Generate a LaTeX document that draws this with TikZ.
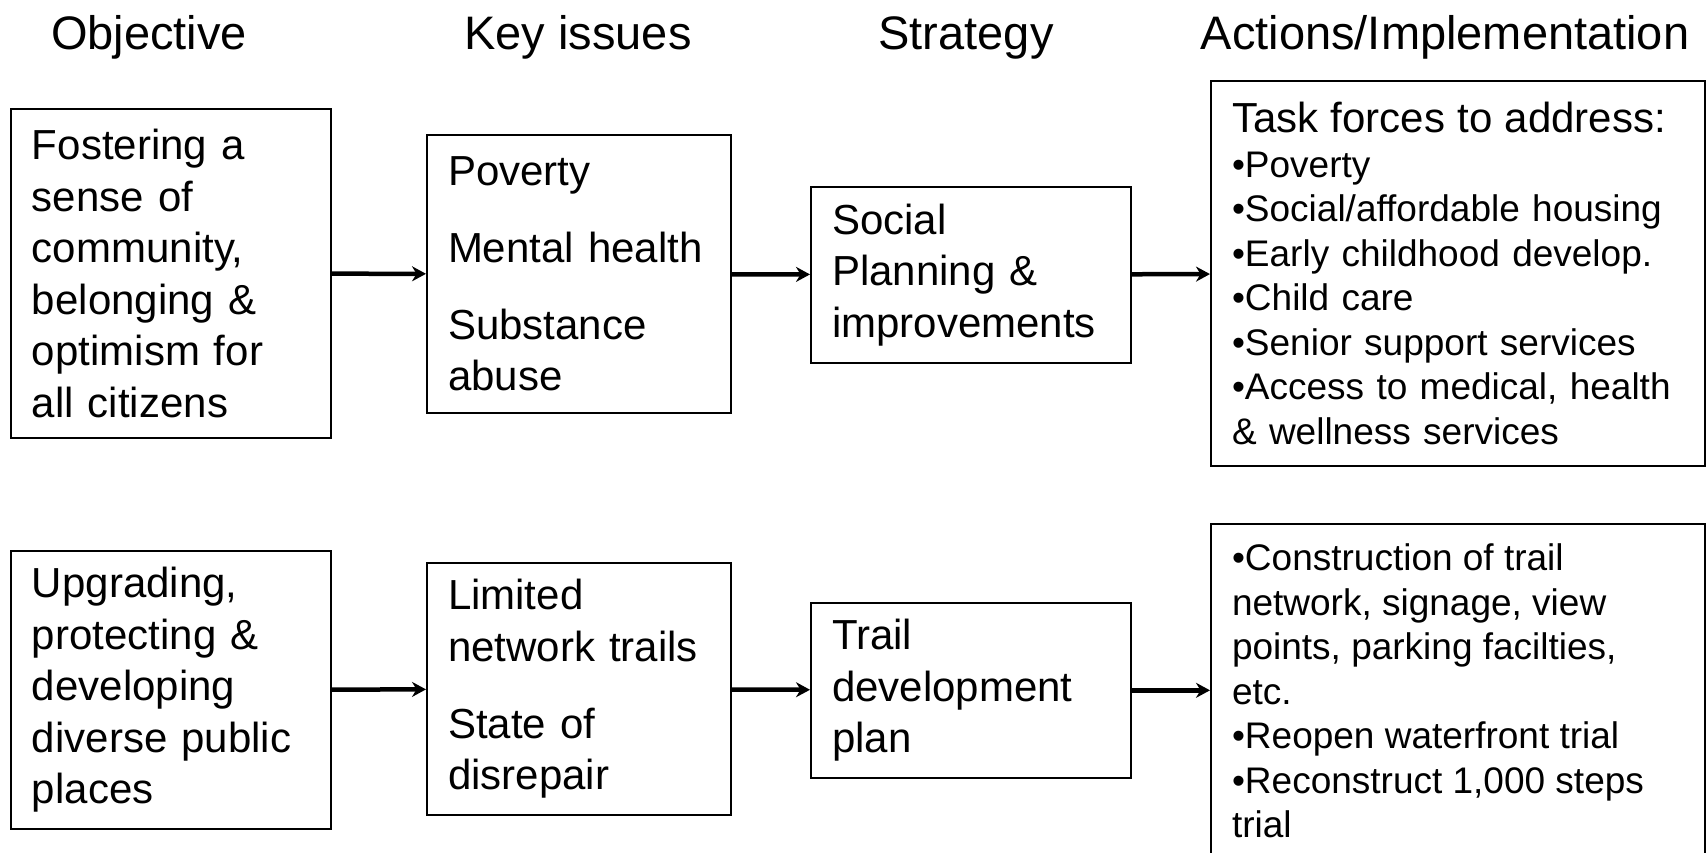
\documentclass[tikz,border=0pt]{standalone}
\usepackage{fontspec}
\setmainfont{Liberation Sans}
\usetikzlibrary{arrows.meta}

\begin{document}
\begin{tikzpicture}[x=0.5pt,y=-0.5pt,
    box/.style={draw,line width=1pt,rectangle,align=left,inner xsep=10.5pt,inner ysep=0pt,
        font=\fontsize{21}{25.75}\selectfont},
    smallbox/.style={box,font=\fontsize{18.5}{22.25}\selectfont},
    head/.style={anchor=base,font=\fontsize{23.5}{28}\selectfont},
    link/.style={line width=2.25pt,-{Stealth[length=7pt,width=7.5pt]}}]
    \useasboundingbox (0,0) rectangle (1707,852);
    \clip (0,0) rectangle (1707,852);
    % column heads
    \foreach \x/\t/\n in {149/Objective/hobj,578/Key issues/hkey,966/Strategy/hstrat,1445/{Actions/Implementation}/hact}
    \node[head] (\n) at (\x,49) {\t};
    % first row
    \node[box,text width=139pt,minimum height=164.5pt] (obj1) at (171,273.5)
        {Fostering a\\sense of\\community,\\belonging \&\\optimism for\\all citizens};
    \node[box,text width=131pt,minimum height=139pt] (key1) at (579,274)
        {Poverty\\[12.75pt]Mental health\\[12.75pt]Substance\\abuse};
    \node[box,text width=139pt,minimum height=88pt] (strat1) at (971,274.7)
        {Social\\Planning \&\\improvements};
    \node[smallbox,text width=226pt,minimum height=192.5pt] (act1) at (1458,273.4)
        {{\fontsize{21}{22.25}\selectfont Task forces to address:}\\•Poverty\\•Social/affordable housing\\•Early childhood develop.\\•Child care\\•Senior support services\\•Access to medical, health\\\& wellness services};
    % second row
    \node[box,text width=139pt,minimum height=139pt] (obj2) at (171,690)
        {Upgrading,\\protecting \&\\developing\\diverse public\\places};
    \node[box,text width=131pt,minimum height=126pt] (key2) at (579,689)
        {Limited\\network trails\\[12.75pt]State of\\disrepair};
    \node[box,text width=139pt,minimum height=87.5pt] (strat2) at (971,690.3)
        {Trail\\development\\plan};
    \node[smallbox,anchor=north,inner ysep=10pt] (act2) at (1458,522.7)
        {\parbox[c][160pt][t]{226pt}{\raggedright •Construction of trail\\network, signage, view\\points, parking facilties,\\etc.\\•Reopen waterfront trial\\•Reconstruct 1,000 steps\\trial}};
    % arrows
    \foreach \a/\b in {obj1/key1,key1/strat1,strat1/act1,obj2/key2,key2/strat2}
    \draw[link] (\a) -- (\b);
    \draw[link] (strat2.east) -- (strat2.east -| act2.west);
\end{tikzpicture}
\end{document}
